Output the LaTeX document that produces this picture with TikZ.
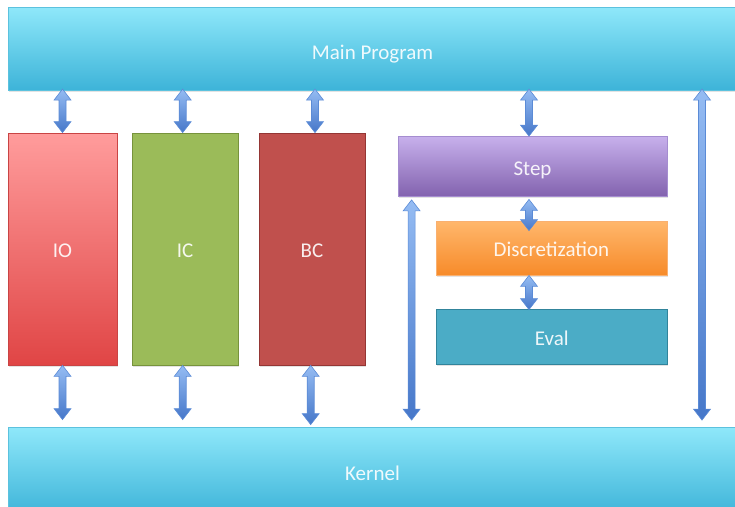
\documentclass[tikz,border=0pt]{standalone}
\usepackage{fontspec}
\setmainfont{Carlito}
\usetikzlibrary{calc,shadows}
\definecolor{maintop}{HTML}{8FE8FA}
\definecolor{mainbot}{HTML}{3CB3D8}
\definecolor{mainline}{HTML}{5CC2DE}
\definecolor{iotop}{HTML}{FF9C9C}
\definecolor{iobot}{HTML}{E04545}
\definecolor{ioline}{HTML}{C94444}
\definecolor{icfill}{HTML}{9BBB59}
\definecolor{icline}{HTML}{77933C}
\definecolor{bcfill}{HTML}{C0504D}
\definecolor{bcline}{HTML}{943634}
\definecolor{steptop}{HTML}{C7B0EC}
\definecolor{stepbot}{HTML}{8262AE}
\definecolor{stepline}{HTML}{A58DD0}
\definecolor{disctop}{HTML}{FFB76C}
\definecolor{discbot}{HTML}{F78B2A}
\definecolor{discline}{HTML}{F9B070}
\definecolor{evalfill}{HTML}{4BACC6}
\definecolor{evalline}{HTML}{31849B}
\definecolor{arrtop}{HTML}{95BCF3}
\definecolor{arrbot}{HTML}{4677C9}
\definecolor{arrline}{HTML}{5B8BD6}
\newcommand\fatarr[2]{\path[fatarrow] let \p1=#1, \p2=#2 in
  (\x1,\y1) -- (\x1+8.5pt,\y1-11pt) -- (\x1+3.5pt,\y1-11pt) -- (\x1+3.5pt,\y2+11pt)
  -- (\x1+8.5pt,\y2+11pt) -- (\x1,\y2) -- (\x1-8.5pt,\y2+11pt) -- (\x1-3.5pt,\y2+11pt)
  -- (\x1-3.5pt,\y1-11pt) -- (\x1-8.5pt,\y1-11pt) -- cycle;}
\begin{document}
\begin{tikzpicture}[x=1pt,y=-1pt,
  box/.style={draw, rectangle, inner sep=0pt, line width=0.8pt,
    font=\fontsize{21}{25}\selectfont, text=white, text opacity=0.9,
    text height=17pt, text depth=0pt,
    drop shadow={opacity=0.22, shadow xshift=0.6pt, shadow yshift=-1.6pt}},
  fatarrow/.style={draw=arrline, line width=0.6pt, top color=arrtop, bottom color=arrbot}]
\useasboundingbox (0,0) rectangle (735,506);
\begin{scope}
\clip (0,0) rectangle (735,506);
\node[box, draw=mainline, top color=maintop, bottom color=mainbot, text height=21pt,
  minimum width=729pt, minimum height=83.7pt] (main) at (372.5,48.85) {Main Program};
\node[box, draw=mainline, top color=maintop, bottom color=mainbot,
  minimum width=729pt, minimum height=89.6pt] (kernel) at (372.5,471.8) {Kernel};
\node[box, draw=ioline, top color=iotop, bottom color=iobot,
  minimum width=109pt, minimum height=232pt] (io) at (62.5,249) {IO};
\node[box, draw=icline, fill=icfill,
  minimum width=106pt, minimum height=232pt] (ic) at (185,249) {IC};
\node[box, draw=bcline, fill=bcfill,
  minimum width=106pt, minimum height=232pt] (bc) at (312,249) {BC};
\node[box, draw=stepline, top color=steptop, bottom color=stepbot,
  minimum width=269pt, minimum height=60pt] (step) at (532.5,166.5) {Step};
\node[box, draw=discline, top color=disctop, bottom color=discbot,
  minimum width=231pt, minimum height=54pt] (disc) at (551.5,248) {Discretization};
\node[box, draw=evalline, fill=evalfill,
  minimum width=231.5pt, minimum height=55pt] (eval) at (551.75,336.5) {Eval};
% arrows from Main Program
\fatarr{($(main.south -| io.north)+(0,-2)$)}{(io.north)}
\fatarr{($(main.south -| ic.north)+(-2.3,-2)$)}{(ic.north)}
\fatarr{($(main.south -| bc.north)+(3,-2)$)}{(bc.north)}
\fatarr{($(main.south -| step.north)+(-3.5,-2)$)}{(step.north)}
\fatarr{($(main.south)+(329.5,-2)$)}{($(kernel.north)+(0,-6.5)$)}
% arrows to Kernel
\fatarr{(io.south)}{($(kernel.north)+(0,-7)$)}
\fatarr{($(ic.south)+(-2.3,0)$)}{($(kernel.north)+(0,-7)$)}
\fatarr{($(bc.south)+(-1.3,0)$)}{($(kernel.north)+(0,-2)$)}
\fatarr{($(step.south west)+(14,3)$)}{($(kernel.north)+(0,-6.5)$)}
% inner chain
\fatarr{($(step.south)+(-3.5,2.5)$)}{($(disc.north)+(0,10)$)}
\fatarr{($(disc.south)+(-22.5,0)$)}{($(eval.north)+(0,1)$)}
\end{scope}
\end{tikzpicture}
\end{document}
